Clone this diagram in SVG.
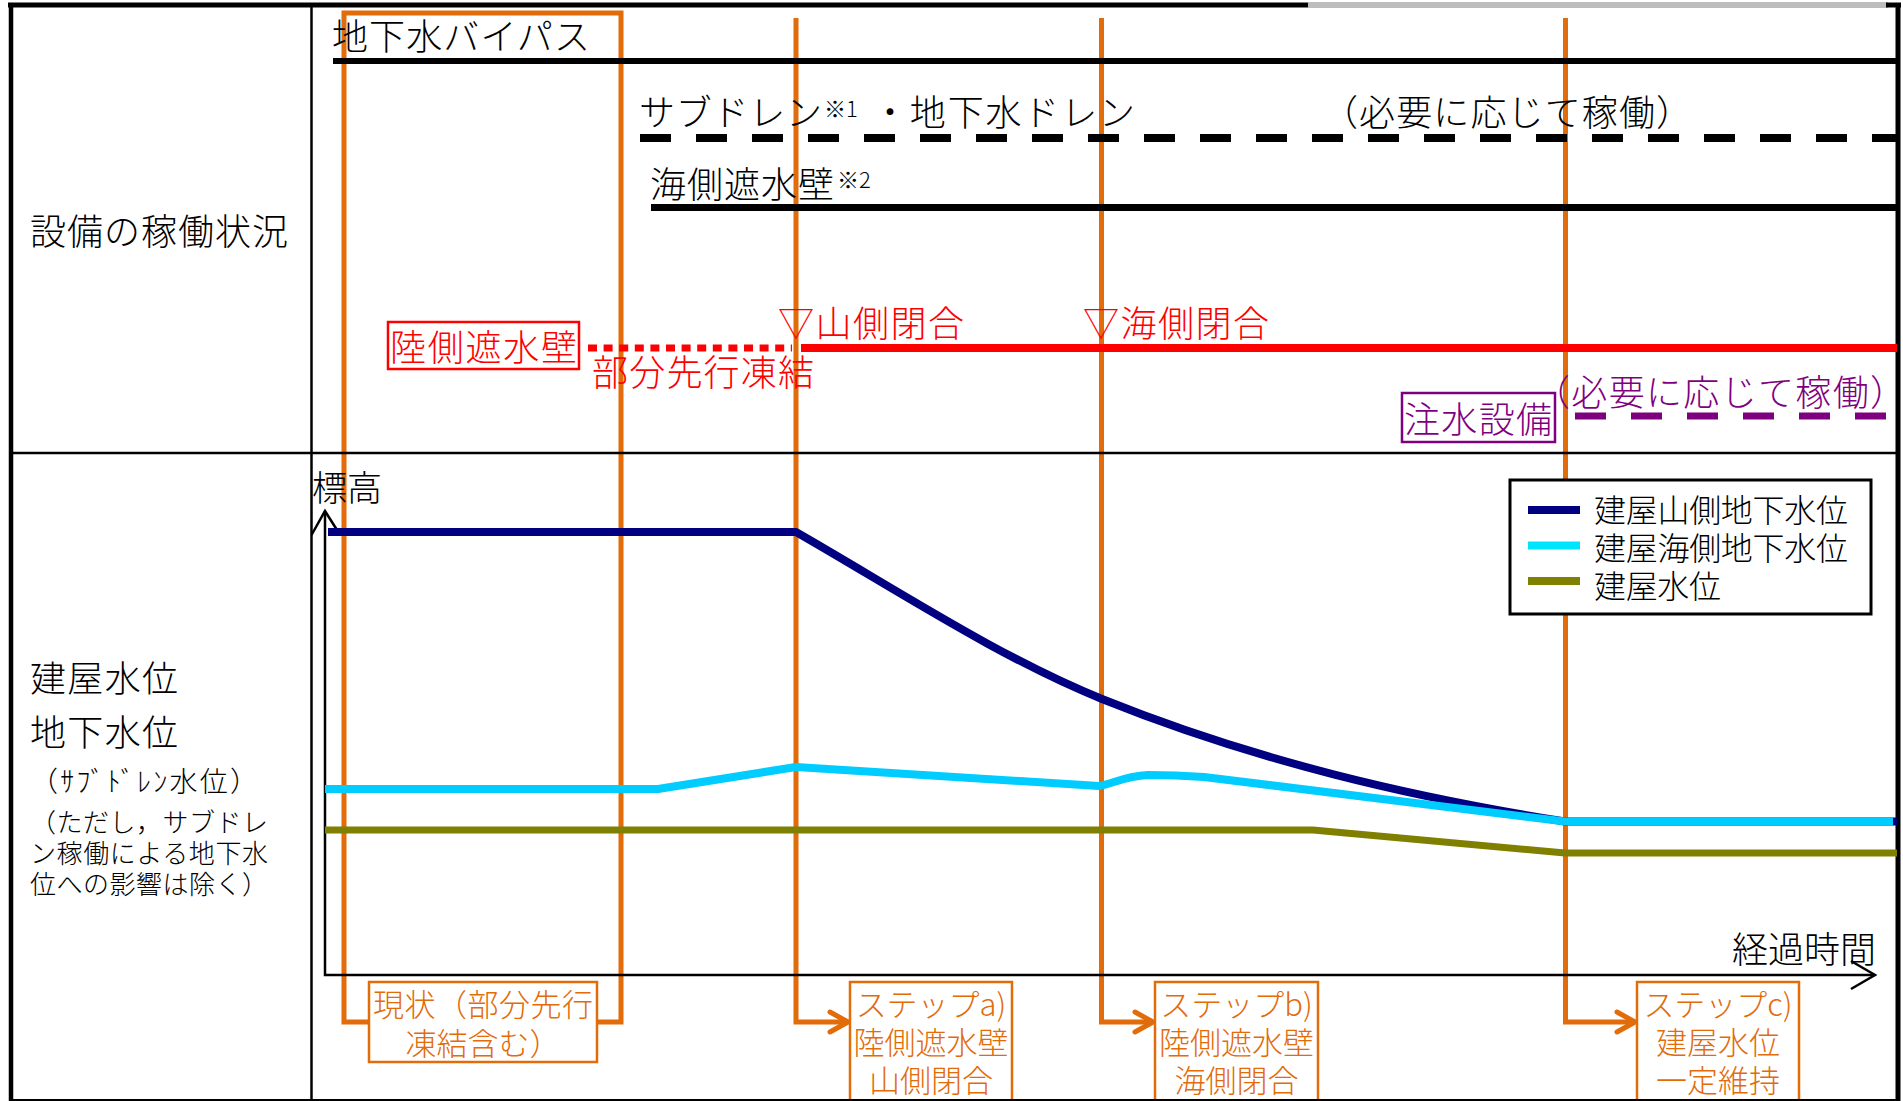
<svg xmlns="http://www.w3.org/2000/svg" width="1903" height="1101" viewBox="0 0 1903 1101">
<style>
text{font-family:"Noto Sans CJK JP","Noto Sans CJK SC",sans-serif;font-weight:300}
.k{fill:#000;font-size:36px}
.r{fill:#FF0000;font-size:36px}
.p{fill:#7F007F;font-size:36px}
.o{fill:#E26B0A;font-size:31px;text-anchor:middle}
.s{fill:#000;font-size:26px}
.lg{fill:#000;font-size:32px}
.or{fill:none;stroke:#E26B0A;stroke-width:5}
.ob{fill:#fff;stroke:#E26B0A;stroke-width:2.5}
.ah{fill:none;stroke:#E26B0A;stroke-width:5;stroke-linecap:round;stroke-linejoin:round}
.frame{stroke:#000;fill:none}
</style>
<rect width="1903" height="1101" fill="#fff"/>

<!-- orange period markers (behind) -->
<g id="periods">
  <rect class="or" x="344" y="13" width="277" height="1009"/>
  <path class="or" d="M796,18 V1022 H846"/>
  <path class="ah" d="M830,1012 L848,1022 L830,1032"/>
  <path class="or" d="M1101.5,18 V1022 H1151"/>
  <path class="ah" d="M1135,1012 L1153,1022 L1135,1032"/>
  <path class="or" d="M1565.5,18 V1022 H1633"/>
  <path class="ah" d="M1617,1012 L1635,1022 L1617,1032"/>
</g>

<!-- table frame -->
<g id="frame">
  <line class="frame" x1="8" y1="5" x2="1308" y2="5" stroke-width="5"/>
  <rect x="1308" y="2" width="580" height="6" fill="#bdbdbd"/>
  <line class="frame" x1="1886" y1="5" x2="1901" y2="5" stroke-width="5"/>
  <line class="frame" x1="11" y1="3" x2="11" y2="1101" stroke-width="4.5"/>
  <line class="frame" x1="1898" y1="3" x2="1898" y2="1101" stroke-width="5"/>
  <line class="frame" x1="311.5" y1="5" x2="311.5" y2="1101" stroke-width="2.5"/>
  <line class="frame" x1="11" y1="453" x2="1898" y2="453" stroke-width="2.5"/>
</g>

<g id="row-labels">
  <text class="k" x="30" y="245" textLength="258">設備の稼働状況</text>
  <text class="k" x="30" y="692" textLength="148">建屋水位</text>
  <text class="k" x="30" y="746" textLength="148">地下水位</text>
  <text class="k" x="30" y="792" style="font-size:28px" textLength="228">（ｻﾌﾞﾄﾞﾚﾝ水位）</text>
  <text class="s" x="30" y="832" textLength="238">（ただし，サブドレ</text>
  <text class="s" x="30" y="863" textLength="238">ン稼働による地下水</text>
  <text class="s" x="30" y="894" textLength="238">位への影響は除く）</text>
</g>

<!-- equipment rows -->
<g id="bypass">
  <text class="k" x="332" y="50" textLength="258">地下水バイパス</text>
  <line x1="333" y1="61" x2="1897" y2="61" stroke="#000" stroke-width="6"/>
</g>
<g id="subdrain">
  <text class="k" x="639" y="126" textLength="183">サブドレン</text>
  <text class="k" x="824" y="117" style="font-size:22px">※1</text>
  <text class="k" x="872" y="126" textLength="263">・地下水ドレン</text>
  <text class="k" x="1322" y="126" textLength="370">（必要に応じて稼働）</text>
  <line x1="640" y1="138" x2="1897" y2="138" stroke="#000" stroke-width="8" stroke-dasharray="31 25"/>
</g>
<g id="seawall">
  <text class="k" x="650" y="198" textLength="184">海側遮水壁</text>
  <text class="k" x="837" y="188" style="font-size:22px">※2</text>
  <line x1="651" y1="207.5" x2="1897" y2="207.5" stroke="#000" stroke-width="7"/>
</g>
<g id="landwall">
  <rect x="388" y="322" width="191" height="47" fill="none" stroke="#FF0000" stroke-width="2.5"/>
  <text class="r" x="390" y="361" textLength="187">陸側遮水壁</text>
  <line x1="588" y1="348" x2="792" y2="348" stroke="#FF0000" stroke-width="7" stroke-dasharray="9 6.6"/>
  <line x1="801" y1="348" x2="1897" y2="348" stroke="#FF0000" stroke-width="8"/>
  <text class="r" x="592" y="386" textLength="222">部分先行凍結</text>
  <text class="r" x="778" y="337" textLength="186">▽山側閉合</text>
  <text class="r" x="1083" y="337" textLength="186">▽海側閉合</text>
</g>
<g id="injection">
  <rect x="1402" y="393" width="153" height="49" fill="#fff" stroke="#7F007F" stroke-width="2.5"/>
  <text class="p" x="1404" y="433" textLength="148">注水設備</text>
  <text class="p" x="1534" y="406" textLength="372">（必要に応じて稼働）</text>
  <line x1="1575" y1="416" x2="1890" y2="416" stroke="#7F007F" stroke-width="7" stroke-dasharray="31 25"/>
</g>

<!-- chart axes -->
<g id="axes" fill="none" stroke="#000" stroke-width="2.5">
  <path d="M325,511 V975 H1875"/>
  <path d="M311.5,535 L325,511 L337,530"/>
  <path d="M1851,961 L1875,975 L1851,989"/>
</g>
<text class="k" x="312" y="501" style="font-size:35px" textLength="70">標高</text>
<text class="k" x="1732" y="963" textLength="144">経過時間</text>

<!-- legend -->
<g id="legend">
  <rect x="1510" y="480" width="361" height="134" fill="#fff" stroke="#000" stroke-width="3"/>
  <line x1="1528" y1="510" x2="1580" y2="510" stroke="#000080" stroke-width="8"/>
  <line x1="1528" y1="545.5" x2="1580" y2="545.5" stroke="#00E5FF" stroke-width="8"/>
  <line x1="1528" y1="581" x2="1580" y2="581" stroke="#808000" stroke-width="8"/>
  <text class="lg" x="1594" y="522" textLength="254">建屋山側地下水位</text>
  <text class="lg" x="1594" y="560" textLength="254">建屋海側地下水位</text>
  <text class="lg" x="1594" y="598" textLength="127">建屋水位</text>
</g>

<!-- curves -->
<g id="curves" fill="none" stroke-linejoin="round">
  <path d="M328,532 L796,532 C898,590.5 1000,657.8 1102,699 C1256,761 1411,797 1565,821.5 L1897,821.5" stroke="#000080" stroke-width="8"/>
  <path d="M325,789 L658,789 L796,767 L1099,786 C1112,784 1125,776 1148,775 C1170,775 1190,776 1204,777 L1565,821.5 L1893,821.5" stroke="#00CCFF" stroke-width="8"/>
  <path d="M325,830 L1313,830 L1565,853 L1897,853" stroke="#808000" stroke-width="7"/>
</g>

<!-- step labels -->
<g id="step-now">
  <rect class="ob" x="369" y="982" width="228" height="80"/>
  <text class="o" x="483" y="1016" textLength="220">現状（部分先行</text>
  <text class="o" x="483" y="1055">凍結含む）</text>
</g>
<g id="step-a">
  <rect class="ob" x="850" y="982" width="162" height="130"/>
  <text class="o" x="931" y="1016">ステップa)</text>
  <text class="o" x="931" y="1054">陸側遮水壁</text>
  <text class="o" x="931" y="1092">山側閉合</text>
</g>
<g id="step-b">
  <rect class="ob" x="1155" y="982" width="163" height="130"/>
  <text class="o" x="1236.5" y="1016">ステップb)</text>
  <text class="o" x="1236.5" y="1054">陸側遮水壁</text>
  <text class="o" x="1236.5" y="1092">海側閉合</text>
</g>
<g id="step-c">
  <rect class="ob" x="1637" y="982" width="162" height="130"/>
  <text class="o" x="1718" y="1016">ステップc)</text>
  <text class="o" x="1718" y="1054">建屋水位</text>
  <text class="o" x="1718" y="1092">一定維持</text>
</g>
<line x1="11" y1="1100" x2="1898" y2="1100" stroke="#000" stroke-width="2"/>
</svg>
